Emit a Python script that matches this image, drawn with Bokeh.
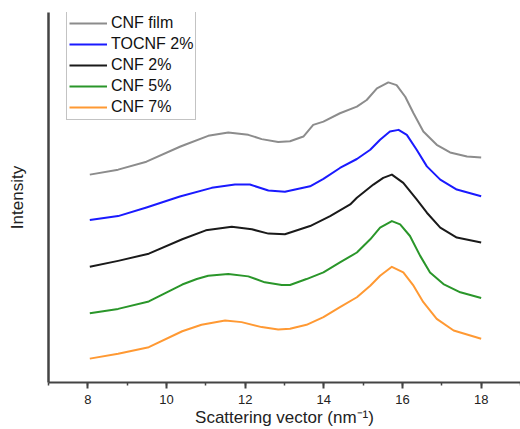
from bokeh.plotting import figure
from bokeh.models import Range1d, SingleIntervalTicker, Legend, LegendItem, FixedTicker
from bokeh.embed import file_html
from bokeh.resources import INLINE

# ---- data (intensity in arbitrary units, curves vertically offset as in the figure) ----
film_x = [8.05, 8.77, 9.49, 10.34, 10.47, 11.06, 11.57, 12.08, 12.42, 12.84, 13.14, 13.48,
          13.73, 13.99, 14.41, 14.84, 15.09, 15.35, 15.64, 15.85, 16.07, 16.28, 16.53,
          16.87, 17.21, 17.64, 18.0]
film_y = [209, 214, 222, 237, 239, 248, 251.3, 249, 244.7, 241.7, 242.5, 247.3,
          259, 262.3, 270.7, 277.3, 284, 295.7, 301.7, 299, 287.3, 270.7, 252.3,
          239, 231.3, 227.3, 226.3]

tocnf_x = [8.05, 8.77, 9.49, 10.34, 11.15, 11.74, 12.12, 12.59, 13.01, 13.65, 13.99, 14.41,
           14.84, 15.18, 15.43, 15.68, 15.90, 16.11, 16.36, 16.62, 16.96, 17.38, 18.0]
tocnf_y = [163.3, 167.3, 176, 187, 195.7, 199, 199, 193, 191.7, 197.3, 204.7, 215.7,
           224.7, 234, 244, 252.3, 254, 249, 234, 217.3, 204, 194, 187.3]

cnf2_x = [8.05, 8.77, 9.55, 10.4, 11.0, 11.66, 12.17, 12.59, 13.01, 13.65, 14.16, 14.67,
          14.84, 15.26, 15.51, 15.73, 16.02, 16.36, 16.62, 16.96, 17.38, 18.0]
cnf2_y = [116.3, 122.3, 129.5, 144, 153, 156.7, 154, 149.7, 149, 157.3, 167.3, 179,
          185.7, 199, 205.7, 209, 200.7, 184, 170.7, 155.7, 145.7, 140.7]

cnf5_x = [8.05, 8.77, 9.55, 10.4, 10.77, 11.06, 11.57, 12.08, 12.50, 12.93, 13.14, 13.56,
          13.99, 14.41, 14.84, 15.18, 15.43, 15.73, 15.94, 16.19, 16.45, 16.70, 17.04,
          17.47, 18.0]
cnf5_y = [69.7, 74, 81.5, 98.5, 104, 107.3, 109, 106.7, 100.7, 98, 98, 104,
          110.7, 120.7, 130.7, 144, 155.7, 162.3, 159, 147.3, 127.3, 110.7, 99,
          90.7, 85]

cnf7_x = [8.05, 8.77, 9.55, 10.4, 10.89, 11.49, 11.91, 12.42, 12.84, 13.14, 13.56, 13.99,
          14.41, 14.84, 15.18, 15.43, 15.73, 16.02, 16.28, 16.53, 16.87, 17.30, 18.0]
cnf7_y = [24, 29, 35.5, 51.5, 58, 62.3, 60.7, 55.7, 53.3, 54, 58, 65.7,
          75.7, 85.7, 97.3, 107.3, 116.3, 110.7, 97.3, 80.7, 64, 52.3, 44]

labels = ["CNF film", "TOCNF 2%", "CNF 2%", "CNF 5%", "CNF 7%"]
colors = ["#8c8c8c", "#1a1aff", "#1a1a1a", "#2a962a", "#ff9933"]
xs = [film_x, tocnf_x, cnf2_x, cnf5_x, cnf7_x]
ys = [film_y, tocnf_y, cnf2_y, cnf5_y, cnf7_y]

FONT = "Liberation Sans"

p = figure(width=520, height=429, output_backend="svg", toolbar_location=None,
           x_range=Range1d(7, 19), y_range=Range1d(0, 372),
           min_border_left=48, min_border_right=0, min_border_top=12, min_border_bottom=45)
p.outline_line_color = None
p.xgrid.visible = False
p.ygrid.visible = False
p.background_fill_color = "white"
p.border_fill_color = "white"

renderers = []
for x, y, c in zip(xs, ys, colors):
    r = p.line(x, y, line_color=c, line_width=2, line_join="round")
    renderers.append(r)

legend = Legend(items=[LegendItem(label=l, renderers=[r]) for l, r in zip(labels, renderers)],
                location=(18, 262))
legend.label_text_font = FONT
legend.label_text_font_size = "16px"
legend.label_text_color = "#111111"
legend.label_height = 20
legend.glyph_height = 20
legend.glyph_width = 38
legend.label_standoff = 4
legend.spacing = 1
legend.padding = 2
legend.margin = 0
legend.border_line_color = "#888888"
legend.border_line_width = 1
legend.background_fill_alpha = 1
p.add_layout(legend)

# x axis
xa = p.xaxis[0]
xa.ticker = SingleIntervalTicker(interval=2, num_minor_ticks=2)
xa.axis_label = "Scattering vector (nm\u207b\u00b9)"
xa.axis_label_text_font = FONT
xa.axis_label_text_font_size = "17px"
xa.axis_label_text_font_style = "normal"
xa.axis_label_text_color = "#222222"
xa.axis_label_standoff = 1
xa.major_label_text_font = FONT
xa.major_label_text_font_size = "13px"
xa.major_label_text_color = "#222222"
xa.major_label_standoff = 6
xa.axis_line_color = "#444444"
xa.axis_line_width = 2
xa.major_tick_line_color = "#444444"
xa.major_tick_line_width = 2
xa.major_tick_out = 6
xa.major_tick_in = 0
xa.minor_tick_line_color = "#444444"
xa.minor_tick_line_width = 1.5
xa.minor_tick_out = 3
xa.minor_tick_in = 0

# y axis (no ticks)
ya = p.yaxis[0]
ya.ticker = FixedTicker(ticks=[])
ya.axis_label = "Intensity"
ya.axis_label_text_font = FONT
ya.axis_label_text_font_size = "17px"
ya.axis_label_text_font_style = "normal"
ya.axis_label_text_color = "#222222"
ya.axis_label_standoff = 22
ya.axis_line_color = "#444444"
ya.axis_line_width = 2.5
ya.major_tick_line_color = None
ya.minor_tick_line_color = None
ya.major_label_text_font_size = "0px"

open("out.html", "w").write(file_html(p, INLINE))
